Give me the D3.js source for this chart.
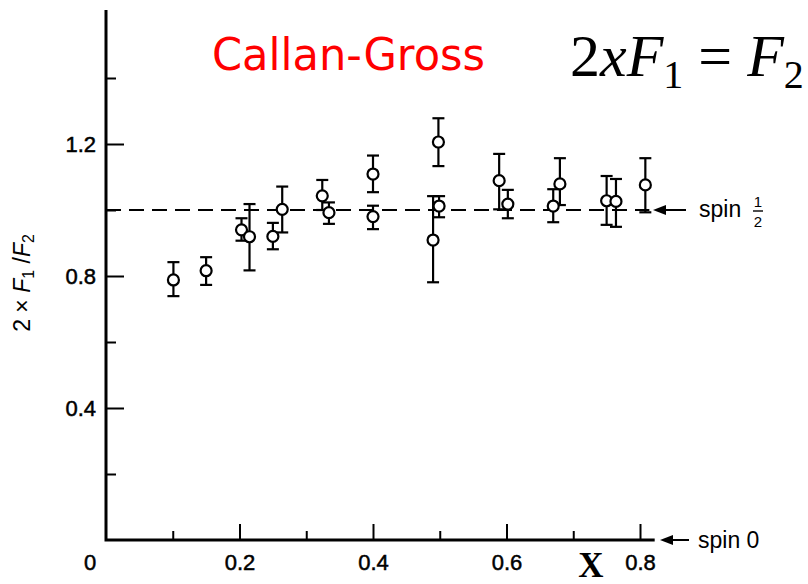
<!DOCTYPE html>
<html>
<head>
<meta charset="utf-8">
<script src="https://cdn.jsdelivr.net/npm/d3@7"></script>
<style>
  body { margin: 0; background: #fff; }
  svg { display: block; }
  .axis line { stroke: #000; stroke-width: 2; }
</style>
</head>
<body>
<div id="chart"></div>
<script>
// x (Bjorken x) and measured 2xF1/F2 with errors
const xValues   = [0.101, 0.150, 0.203, 0.215, 0.250, 0.264, 0.324, 0.334, 0.400, 0.400,
                   0.498, 0.490, 0.499, 0.589, 0.602, 0.670, 0.680, 0.750, 0.764, 0.808];
const ratioValues = [0.788, 0.816, 0.940, 0.919, 0.920, 1.002, 1.043, 0.992, 1.109, 0.980,
                     1.206, 0.909, 1.012, 1.089, 1.018, 1.012, 1.079, 1.028, 1.026, 1.076];
const errHigh   = [0.842, 0.857, 0.975, 1.018, 0.961, 1.071, 1.091, 1.023, 1.165, 1.013,
                   1.278, 1.042, 1.042, 1.170, 1.061, 1.063, 1.157, 1.103, 1.094, 1.157];
const errLow    = [0.739, 0.773, 0.907, 0.817, 0.881, 0.932, 1.000, 0.958, 1.054, 0.942,
                   1.133, 0.781, 0.978, 1.002, 0.975, 0.963, 1.015, 0.955, 0.949, 0.993];
const xMajorTicks = [0.2, 0.4, 0.6, 0.8];
const xMinorTicks = [0.1, 0.3, 0.5, 0.7];
const yMajorTicks = [0.4, 0.8, 1.2];
const yMinorTicks = [0.2, 0.6, 1.0, 1.4];
const spinHalf = 1.0;

const W = 808, H = 584;
const sans = 'Liberation Sans, Arial, sans-serif';
const serif = 'Liberation Serif, Times New Roman, serif';
const svg = d3.select('#chart').append('svg').attr('width', W).attr('height', H);

const x = d3.scaleLinear().domain([0, 0.8]).range([106, 640]);
const y = d3.scaleLinear().domain([0, 1]).range([540, 210]);

// ticks point inward
const gx = svg.append('g').attr('class', 'axis').attr('transform', `translate(0,${y(0)})`);
gx.call(d3.axisBottom(x).tickValues(xMajorTicks).tickSizeInner(-16).tickSizeOuter(0)
  .tickPadding(14).tickFormat(d3.format('.1f')));
gx.append('g').call(d3.axisBottom(x).tickValues(xMinorTicks).tickSizeInner(-9).tickSizeOuter(0).tickFormat(''));
gx.selectAll('.domain').remove();

const gy = svg.append('g').attr('class', 'axis').attr('transform', `translate(${x(0)},0)`);
gy.call(d3.axisLeft(y).tickValues(yMajorTicks).tickSizeInner(-18).tickSizeOuter(0)
  .tickPadding(10).tickFormat(d3.format('.1f')));
gy.append('g').call(d3.axisLeft(y).tickValues(yMinorTicks).tickSizeInner(-10).tickSizeOuter(0).tickFormat(''));
gy.selectAll('.domain').remove();
svg.selectAll('.axis text').attr('font-family', sans).attr('font-size', 22).attr('fill', '#000')
  .attr('stroke', '#000').attr('stroke-width', 0.5);

// axis lines
svg.append('path')
  .attr('d', `M${x(0)},${y(1.606)}V${y(0)}H${x(0.822)}`)
  .attr('fill', 'none').attr('stroke', '#000').attr('stroke-width', 3);

svg.append('text').attr('x', 90).attr('y', 570)
  .attr('text-anchor', 'middle').attr('font-family', sans)
  .attr('stroke', '#000').attr('stroke-width', 0.5)
  .attr('font-size', 22).text('0');

// spin 1/2 reference line
svg.append('line')
  .attr('x1', x(0)).attr('x2', x(0.814)).attr('y1', y(spinHalf)).attr('y2', y(spinHalf))
  .attr('stroke', '#000').attr('stroke-width', 2).attr('stroke-dasharray', '15,8');

// error bars
const pts = xValues.map((v, i) => ({x: v, y: ratioValues[i], hi: errHigh[i], lo: errLow[i]}));
const eb = svg.append('g').attr('stroke', '#000').attr('stroke-width', 2.2).attr('fill', 'none');
pts.forEach(d => {
  const cx = x(d.x);
  eb.append('line').attr('x1', cx).attr('x2', cx).attr('y1', y(d.hi)).attr('y2', y(d.lo));
  eb.append('line').attr('x1', cx - 6).attr('x2', cx + 6).attr('y1', y(d.hi)).attr('y2', y(d.hi));
  eb.append('line').attr('x1', cx - 6).attr('x2', cx + 6).attr('y1', y(d.lo)).attr('y2', y(d.lo));
});
svg.append('g').selectAll('circle').data(pts).join('circle')
  .attr('cx', d => x(d.x)).attr('cy', d => y(d.y)).attr('r', 5.5)
  .attr('fill', '#fff').attr('stroke', '#000').attr('stroke-width', 2.2);

// arrows
function arrow(x1, x2, yy) {
  svg.append('line').attr('x1', x1 + 8).attr('x2', x2).attr('y1', yy).attr('y2', yy)
    .attr('stroke', '#000').attr('stroke-width', 2);
  svg.append('path').attr('d', `M${x1},${yy}L${x1 + 13},${yy - 5}L${x1 + 13},${yy + 5}Z`).attr('fill', '#000');
}
arrow(653, 686, y(spinHalf));
arrow(660, 689, y(0));

svg.append('text').attr('x', 698).attr('y', y(0) + 8).attr('font-family', sans)
  .attr('font-size', 23).text('spin 0');
svg.append('text').attr('x', 699).attr('y', y(spinHalf) + 7).attr('font-family', sans)
  .attr('font-size', 23).text('spin');
svg.append('text').attr('x', 758).attr('y', y(spinHalf) - 3).attr('font-family', sans)
  .attr('font-size', 15).attr('text-anchor', 'middle').text('1');
svg.append('text').attr('x', 758).attr('y', y(spinHalf) + 17).attr('font-family', sans)
  .attr('font-size', 15).attr('text-anchor', 'middle').text('2');
svg.append('line').attr('x1', 753).attr('x2', 763).attr('y1', y(spinHalf) + 1).attr('y2', y(spinHalf) + 1)
  .attr('stroke', '#000').attr('stroke-width', 1.4);

// x label
svg.append('text').attr('x', 591).attr('y', 577).attr('text-anchor', 'middle')
  .attr('font-family', serif).attr('font-weight', 'bold')
  .attr('font-size', 35).text('X');

// y label
const yl = svg.append('text').attr('transform', 'translate(30,283) rotate(-90)')
  .attr('text-anchor', 'middle').attr('font-family', sans).attr('font-size', 23).attr('fill', '#000');
yl.append('tspan').text('2 × ');
yl.append('tspan').attr('font-style', 'italic').text('F');
yl.append('tspan').attr('font-size', 16).attr('dy', 4).text('1');
yl.append('tspan').attr('dy', -4).text(' /');
yl.append('tspan').attr('font-style', 'italic').text('F');
yl.append('tspan').attr('font-size', 16).attr('dy', 4).text('2');

// title
svg.append('text').attr('x', 212).attr('y', 70).attr('fill', '#ff0000')
  .attr('font-family', 'DejaVu Sans, sans-serif').attr('font-size', 44)
  .attr('textLength', 273).attr('lengthAdjust', 'spacingAndGlyphs').text('Callan-Gross');

// equation
const eq = svg.append('text').attr('x', 570).attr('y', 76)
  .attr('font-family', serif).attr('font-size', 60);
eq.append('tspan').text('2');
eq.append('tspan').attr('font-style', 'italic').text('xF');
eq.append('tspan').attr('font-size', 40).attr('dy', 12).text('1');
eq.append('tspan').attr('dy', -12).text(' = ');
eq.append('tspan').attr('font-style', 'italic').text('F');
eq.append('tspan').attr('font-size', 40).attr('dy', 12).text('2');
</script>
</body>
</html>
